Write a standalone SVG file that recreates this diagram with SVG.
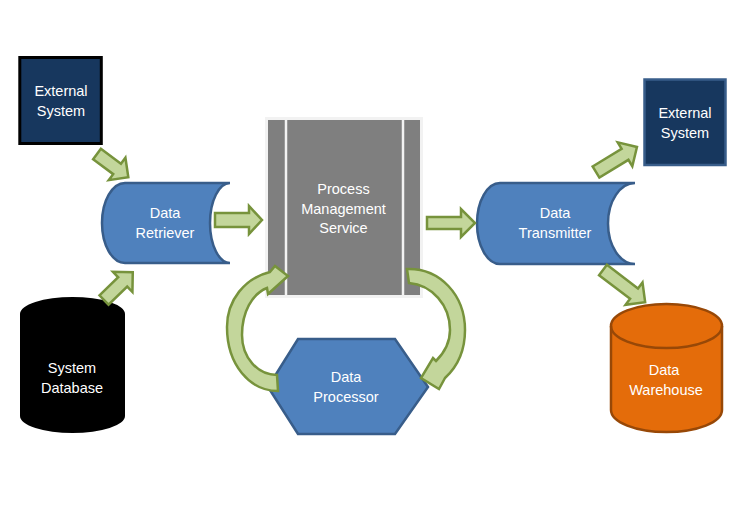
<svg xmlns="http://www.w3.org/2000/svg" width="733" height="512" viewBox="0 0 733 512">
<style>
.t{font-family:"Liberation Sans",Arial,sans-serif;font-size:14.5px;fill:#FFFFFF;text-anchor:middle}
.blue{fill:#4F81BD;stroke:#385D8A;stroke-width:2.5}
.arr{fill:#C3D69B;stroke:#77933C;stroke-width:2.5;stroke-linejoin:miter}
</style>
<defs>
<path id="a39" d="M0,-6.5 L25,-6.5 L25,-14 L39,0 L25,14 L25,6.5 L0,6.5 Z"/>
<path id="a40" d="M0,-6.5 L26,-6.5 L26,-14 L40,0 L26,14 L26,6.5 L0,6.5 Z"/>
<path id="a48" d="M0,-6.5 L34,-6.5 L34,-14 L48,0 L34,14 L34,6.5 L0,6.5 Z"/>
<path id="a53" d="M0,-6.5 L39,-6.5 L39,-14 L53,0 L39,14 L39,6.5 L0,6.5 Z"/>
</defs>
<rect width="733" height="512" fill="#FFFFFF"/>

<g id="external-system-left">
<rect x="19.8" y="57.5" width="81.5" height="86" fill="#17375E" stroke="#000000" stroke-width="3"/>
<text class="t" x="61" y="96">External</text>
<text class="t" x="61" y="116">System</text>
</g>

<g id="system-database">
<path d="M20,314 A52.5,17 0 0 1 125,314 L125,416 A52.5,17 0 0 1 20,416 Z" fill="#000000"/>
<text class="t" x="72" y="373">System</text>
<text class="t" x="72" y="393">Database</text>
</g>

<g id="data-retriever">
<path class="blue" d="M125,183 L230,183 A20,40 0 0 0 230,263 L125,263 A23,40 0 0 1 125,183 Z"/>
<text class="t" x="165" y="218">Data</text>
<text class="t" x="165" y="238">Retriever</text>
</g>

<g id="process-management-service">
<rect x="266.5" y="118.5" width="155" height="178" fill="#7F7F7F" stroke="#F2F2F2" stroke-width="3"/>
<line x1="286" y1="119" x2="286" y2="296" stroke="#F2F2F2" stroke-width="2.5"/>
<line x1="403" y1="119" x2="403" y2="296" stroke="#F2F2F2" stroke-width="2.5"/>
<text class="t" x="343.5" y="194">Process</text>
<text class="t" x="343.5" y="214">Management</text>
<text class="t" x="343.5" y="233">Service</text>
</g>

<g id="data-processor">
<polygon class="blue" points="268,387 298,339 395,339 428,387 395,434 298,434"/>
<text class="t" x="346" y="382">Data</text>
<text class="t" x="346" y="402">Processor</text>
</g>

<g id="data-transmitter">
<path class="blue" d="M500,183 L635,183 A27,40.5 0 0 0 635,264 L500,264 A23,40.5 0 0 1 500,183 Z"/>
<text class="t" x="555" y="218">Data</text>
<text class="t" x="555" y="238">Transmitter</text>
</g>

<g id="external-system-right">
<rect x="644.5" y="79.5" width="81" height="85.5" fill="#17375E" stroke="#385D8A" stroke-width="2.5"/>
<text class="t" x="685" y="118">External</text>
<text class="t" x="685" y="138">System</text>
</g>

<g id="data-warehouse">
<path d="M611,326 A55.5,22 0 0 1 722,326 L722,410 A55.5,22 0 0 1 611,410 Z" fill="#E46C0A" stroke="#984807" stroke-width="2.5"/>
<path d="M611,326 A55.5,22 0 0 0 722,326" fill="none" stroke="#984807" stroke-width="2.5"/>
<text class="t" x="664" y="375">Data</text>
<text class="t" x="666" y="395">Warehouse</text>
</g>

<g id="connectors">
<use href="#a39" class="arr" transform="translate(97,154) rotate(36.6)"/>
<use href="#a40" class="arr" transform="translate(104,300) rotate(-44)"/>
<polygon class="arr" points="215,213 249,213 249,206 262,220 249,234 249,227 215,227"/>
<polygon class="arr" points="427,217 461,217 461,209 475,223 461,237 461,229 427,229"/>
<use href="#a48" class="arr" transform="translate(596,172) rotate(-31.4)"/>
<use href="#a53" class="arr" transform="translate(603,270) rotate(37.3)"/>
<path class="arr" d="M278,391 C250,391 227,365 227,327 C227,300 245,278 270,272 L275,266 L288,276 L268,294 L267,288 C252,294 242,312 242,335 C242,358 258,375 277,375 Z"/>
<path class="arr" d="M407,269 C440,268 465,295 465,330 C465,352 456,368 445,378 L439,389 L421,378 L433,358 L436,361 C445,352 450,342 450,330 C450,305 432,285 409,283 Z"/>
</g>
</svg>
